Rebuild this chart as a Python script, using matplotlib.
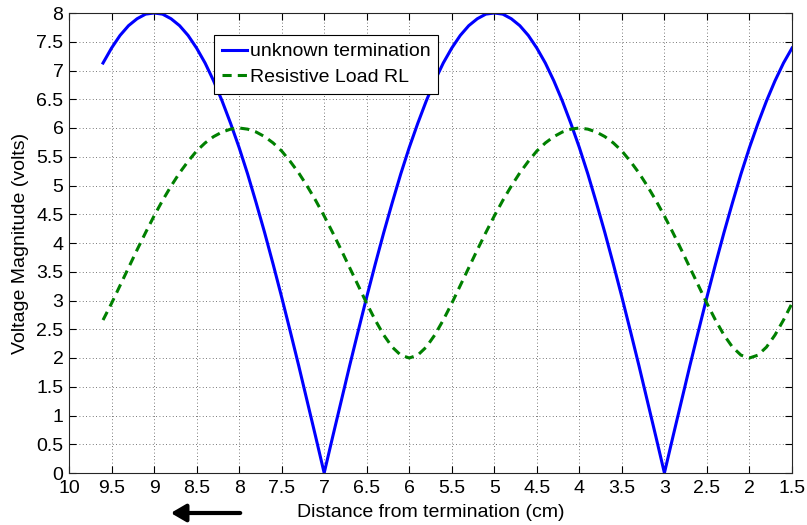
import numpy as np
import matplotlib
matplotlib.use("Agg")
import matplotlib.pyplot as plt

plt.rcParams['font.family'] = ['Liberation Sans', 'DejaVu Sans']

# distance grid (cm), 9.6 down to 1.5 in 0.1 steps
distance = np.round(np.linspace(9.6, 1.5, 82), 2)

unknown_termination = [
    7.13, 7.39, 7.61, 7.78, 7.90, 7.98, 8.00, 7.98, 7.90, 7.78,
    7.61, 7.39, 7.13, 6.82, 6.47, 6.08, 5.66, 5.20, 4.70, 4.18,
    3.63, 3.06, 2.47, 1.87, 1.25, 0.63, 0.00, 0.63, 1.25, 1.87,
    2.47, 3.06, 3.63, 4.18, 4.70, 5.20, 5.66, 6.08, 6.47, 6.82,
    7.13, 7.39, 7.61, 7.78, 7.90, 7.98, 8.00, 7.98, 7.90, 7.78,
    7.61, 7.39, 7.13, 6.82, 6.47, 6.08, 5.66, 5.20, 4.70, 4.18,
    3.63, 3.06, 2.47, 1.87, 1.25, 0.63, 0.00, 0.63, 1.25, 1.87,
    2.47, 3.06, 3.63, 4.18, 4.70, 5.20, 5.66, 6.08, 6.47, 6.82,
    7.13, 7.39,
]

resistive_load = [
    2.66, 2.95, 3.26, 3.57, 3.88, 4.18, 4.47, 4.74, 4.99, 5.22,
    5.42, 5.60, 5.74, 5.85, 5.93, 5.98, 6.00, 5.98, 5.93, 5.85,
    5.74, 5.60, 5.42, 5.22, 4.99, 4.74, 4.47, 4.18, 3.88, 3.57,
    3.26, 2.95, 2.66, 2.40, 2.19, 2.05, 2.00, 2.05, 2.19, 2.40,
    2.66, 2.95, 3.26, 3.57, 3.88, 4.18, 4.47, 4.74, 4.99, 5.22,
    5.42, 5.60, 5.74, 5.85, 5.93, 5.98, 6.00, 5.98, 5.93, 5.85,
    5.74, 5.60, 5.42, 5.22, 4.99, 4.74, 4.47, 4.18, 3.88, 3.57,
    3.26, 2.95, 2.66, 2.40, 2.19, 2.05, 2.00, 2.05, 2.19, 2.40,
    2.66, 2.95,
]

x_ticks = [10, 9.5, 9, 8.5, 8, 7.5, 7, 6.5, 6, 5.5, 5, 4.5, 4, 3.5, 3, 2.5, 2, 1.5]
x_ticklabels = ['10', '9.5', '9', '8.5', '8', '7.5', '7', '6.5', '6', '5.5',
                '5', '4.5', '4', '3.5', '3', '2.5', '2', '1.5']
y_ticks = [0, 0.5, 1, 1.5, 2, 2.5, 3, 3.5, 4, 4.5, 5, 5.5, 6, 6.5, 7, 7.5, 8]
y_ticklabels = ['0', '0.5', '1', '1.5', '2', '2.5', '3', '3.5', '4', '4.5',
                '5', '5.5', '6', '6.5', '7', '7.5', '8']

fig = plt.figure(figsize=(8.07, 5.25), dpi=100)
ax = fig.add_axes([69/807, 1 - 473/525, (792 - 69)/807, (473 - 13)/525])

ax.plot(distance, unknown_termination, color='#0000ff', lw=2.2,
        label='unknown termination')
ax.plot(distance, resistive_load, color='#008000', lw=2.2, ls=(0, (3, 2)),
        label='Resistive Load RL')

ax.set_xlim(10, 1.5)
ax.set_ylim(0, 8)
ax.set_xticks(x_ticks)
ax.set_xticklabels(x_ticklabels)
ax.set_yticks(y_ticks)
ax.set_yticklabels(y_ticklabels)
ax.tick_params(direction='in', length=5, width=0.8, top=True, right=True,
               labelsize=14, colors='black')
ax.tick_params(axis='x', pad=5)
ax.tick_params(axis='y', pad=4)
ax.grid(True, color='black', ls=(0, (1, 3)), lw=0.6, alpha=0.7)
for s in ax.spines.values():
    s.set_linewidth(0.8)
    s.set_color('#262626')

ax.set_xlabel('Distance from termination (cm)', fontsize=14, labelpad=5)
ax.set_ylabel('Voltage Magnitude (volts)', fontsize=14, labelpad=5)

leg = ax.legend(loc='upper left', bbox_to_anchor=((214 - 69)/723, (473 - 35)/460),
                borderaxespad=0, fontsize=14, frameon=True, fancybox=False,
                edgecolor='black', framealpha=1, handlelength=1.3,
                handletextpad=0.15, borderpad=0.4, labelspacing=0.4)
leg.get_frame().set_linewidth(0.8)

fig.patches.append(matplotlib.patches.FancyArrowPatch(
    (243/807, 1 - 513/525), (168/807, 1 - 513/525), transform=fig.transFigure,
    arrowstyle='-|>,head_length=6,head_width=3.5', color='black', lw=3,
    mutation_scale=1.5))

fig.savefig('out.png', dpi=100)
